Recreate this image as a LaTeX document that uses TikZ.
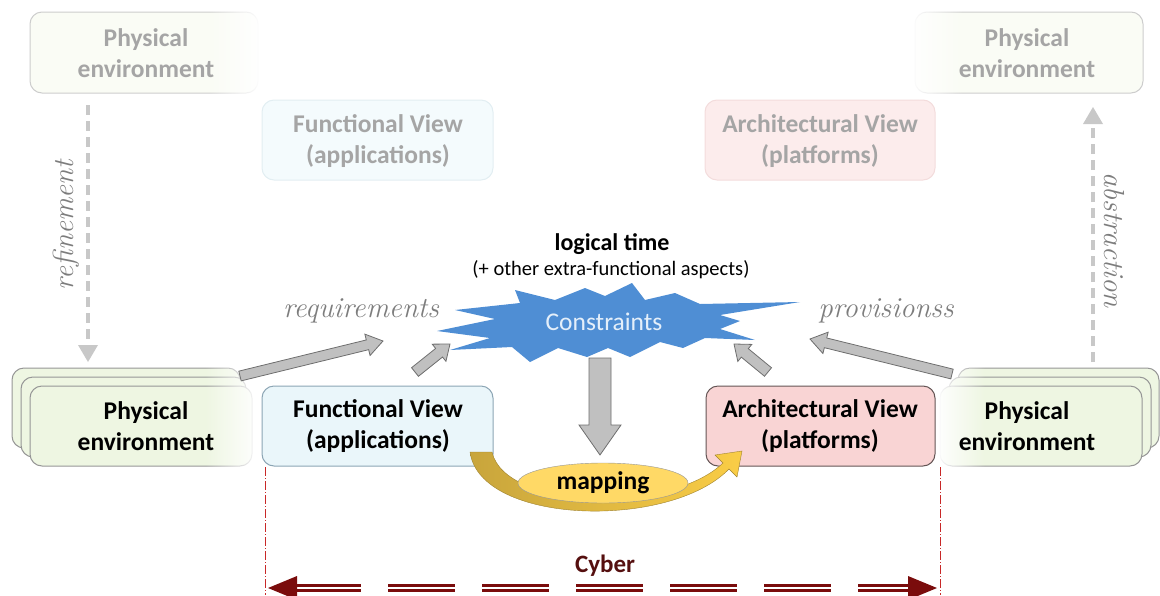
\documentclass[tikz,border=0pt]{standalone}
\usepackage{fontspec}
\newfontfamily\calibri{Carlito}
\usetikzlibrary{calc,fadings,shapes.geometric}
\definecolor{envfill}{RGB}{238,246,226}
\definecolor{envborder}{RGB}{150,150,150}
\definecolor{funfill}{RGB}{234,246,250}
\definecolor{funborder}{RGB}{140,165,180}
\definecolor{arcfill}{RGB}{249,212,212}
\definecolor{arcborder}{RGB}{100,85,85}
\definecolor{fenvfill}{RGB}{250,252,245}
\definecolor{fenvborder}{RGB}{205,205,205}
\definecolor{ffunfill}{RGB}{244,251,253}
\definecolor{ffunborder}{RGB}{226,238,242}
\definecolor{farcfill}{RGB}{252,236,236}
\definecolor{farcborder}{RGB}{243,220,220}
\definecolor{fadetext}{RGB}{165,165,165}
\definecolor{starblue}{RGB}{79,142,212}
\definecolor{startext}{RGB}{228,239,250}
\definecolor{arrgray}{RGB}{192,192,192}
\definecolor{arrborder}{RGB}{110,110,110}
\definecolor{dashc}{RGB}{200,200,200}
\definecolor{labgray}{RGB}{125,125,125}
\definecolor{mapfill}{RGB}{255,217,102}
\definecolor{goldA}{RGB}{200,165,60}
\definecolor{goldB}{RGB}{250,205,70}
\definecolor{cyberc}{RGB}{122,12,12}
\definecolor{cybertext}{RGB}{85,15,15}
\definecolor{vlinec}{RGB}{200,40,40}
\tikzfading[name=fadeR, left color=transparent!100, right color=transparent!0]
\tikzfading[name=fadeL, left color=transparent!0, right color=transparent!100]
\newcommand{\blkarrow}[5]{%
  \coordinate (hb) at ($(#2)!#5!(#1)$);
  \filldraw[blockar] ($(#1)!#3!90:(#2)$) -- ($(hb)!#3!90:(#2)$) -- ($(hb)!#4!90:(#2)$) -- (#2) -- ($(hb)!#4!-90:(#2)$) -- ($(hb)!#3!-90:(#2)$) -- ($(#1)!#3!-90:(#2)$) -- cycle;}
\begin{document}
\begin{tikzpicture}[x=1pt,y=-1pt,
  envbox/.style={draw=envborder, fill=envfill, rounded corners=12pt, line width=1pt},
  funbox/.style={draw=funborder, fill=funfill, rounded corners=12pt, line width=1pt},
  arcbox/.style={draw=arcborder, fill=arcfill, rounded corners=12pt, line width=1pt},
  fenvbox/.style={draw=fenvborder, fill=fenvfill, rounded corners=12pt, line width=1pt},
  ffunbox/.style={draw=ffunborder, fill=ffunfill, rounded corners=12pt, line width=1pt},
  farcbox/.style={draw=farcborder, fill=farcfill, rounded corners=12pt, line width=1pt},
  boldtxt/.style={align=center, font=\calibri\bfseries\fontsize{25.5}{31}\selectfont, text=black},
  fadetxt/.style={align=center, font=\calibri\bfseries\fontsize{25.5}{31}\selectfont, text=fadetext},
  itlab/.style={font=\itshape\fontsize{29}{32}\selectfont, text=labgray},
  blockar/.style={fill=arrgray, draw=arrborder, line width=0.8pt, line join=miter},
  dashline/.style={draw=dashc, line width=4pt, dash pattern=on 10pt off 6pt},
  dashhead/.style={fill=dashc, draw=none},
  cyberline/.style={draw=cyberc, double=white, double distance=1.6pt, line width=3pt, dash pattern=on 67pt off 27pt},
  vline/.style={draw=vlinec, line width=0.7pt, dash pattern=on 9pt off 2pt on 1pt off 2pt},
]
\useasboundingbox (0,0) rectangle (1160,595);

% ---------- top faded boxes
\path[fenvbox] (30,12) rectangle (258,93);
\fill[white, path fading=fadeR] (208,5) rectangle (261,100);
\node[fadetxt] (penvTL) at (146,53) {Physical\\environment};

\path[fenvbox] (915,12) rectangle (1143,93);
\fill[white, path fading=fadeL] (910,5) rectangle (963,100);
\node[fadetxt] (penvTR) at (1027,53) {Physical\\environment};

\path[ffunbox] (262,100) rectangle (493,180);
\node[fadetxt] (funTop) at (378,141) {Functional View\\(applications)};
\path[farcbox] (705,100) rectangle (935,180);
\node[fadetxt] (arcTop) at (820,141) {Architectural View\\(platforms)};

% ---------- bottom left stack
\path[envbox] (12,368) rectangle (240,448);
\path[envbox] (21,377) rectangle (246,457);
\path[envbox] (30,386) rectangle (252,466);
\fill[white, path fading=fadeR] (205,360) rectangle (259,470);
\node[boldtxt] (penvBL) at (146,426) {Physical\\environment};

% ---------- bottom right stack
\path[envbox] (958,368) rectangle (1159,448);
\path[envbox] (949,377) rectangle (1151,457);
\path[envbox] (940,386) rectangle (1142,466);
\fill[white, path fading=fadeL] (937,360) rectangle (985,470);
\node[boldtxt] (penvBR) at (1027,426) {Physical\\environment};

% ---------- functional / architectural
\path[funbox] (262,386) rectangle (493,466);
\node[boldtxt] (funBot) at (378,426) {Functional View\\(applications)};
\path[arcbox] (706,386) rectangle (935,466);
\node[boldtxt] (arcBot) at (820,426) {Architectural View\\(platforms)};

% ---------- refinement / abstraction
\coordinate (refA) at (88,105);
\coordinate (refB) at (88,345);
\draw[dashline] (refA) -- (refB);
\fill[dashhead] (78,345) -- (98,345) -- (88,362) -- cycle;
\node[itlab, rotate=90] (refl) at (66,225) {refinement};

\coordinate (absA) at (1093,362);
\coordinate (absB) at (1093,124);
\draw[dashline] (absA) -- (absB);
\fill[dashhead] (1083,124) -- (1103,124) -- (1093,107) -- cycle;
\node[itlab, rotate=-90] (absl) at (1114,240) {abstraction};

% ---------- constraints star
\fill[starblue] (437,331) -- (495,319) -- (455,310) -- (520,303) -- (515,290) -- (555,300)
  -- (585,288) -- (605,296) -- (632,283) -- (645,300) -- (675,293) -- (700,304)
  -- (800,302) -- (720,315) -- (740,321) -- (720,329) -- (755,340) -- (705,338)
  -- (683,348) -- (660,342) -- (630,357) -- (608,348) -- (587,357) -- (558,348)
  -- (530,362) -- (512,347) -- (450,350) -- (490,338) -- cycle;
\node[font=\calibri\fontsize{25.5}{28}\selectfont, text=startext] (constr) at (604,322) {Constraints};
\node[font=\calibri\bfseries\fontsize{24}{27}\selectfont] (ltime) at (612,244) {logical time};
\node[font=\calibri\fontsize{20.5}{23}\selectfont] (extra) at (611,270) {(+ other extra-functional aspects)};

\node[itlab] (reql) at (361,311) {requirements};
\node[itlab] (provl) at (886,311) {provisionss};

% ---------- block arrows
\coordinate (rlA) at (240,376); \coordinate (rlB) at (383,341);
\blkarrow{rlA}{rlB}{5pt}{11pt}{16pt}
\coordinate (rsA) at (415,372); \coordinate (rsB) at (450,344);
\blkarrow{rsA}{rsB}{5.5pt}{11pt}{14pt}
\coordinate (psA) at (768,372); \coordinate (psB) at (734,344);
\blkarrow{psA}{psB}{5.5pt}{11pt}{14pt}
\coordinate (plA) at (952,374); \coordinate (plB) at (810,339);
\blkarrow{plA}{plB}{5pt}{11pt}{16pt}
\coordinate (dnA) at (600,358); \coordinate (dnB) at (600,455);
\blkarrow{dnA}{dnB}{11pt}{21pt}{30pt}

% ---------- mapping curved arrow
\shade[left color=goldA, right color=goldB, draw=goldA!80!black, line width=0.4pt]
  (470,452) .. controls (480,525) and (670,530) .. (729,469) -- (737,477) -- (742,451)
  -- (715,455) -- (723,463) .. controls (670,514) and (505,510) .. (492,452) -- cycle;
\node[draw=envborder, fill=mapfill, ellipse, minimum width=170pt, minimum height=40pt,
  inner sep=0pt, font=\calibri\bfseries\fontsize{25.5}{28}\selectfont] (mapping) at (603,483) {mapping};

% ---------- cyber
\draw[vline] (265,467) -- (265,595);
\draw[vline] (940,467) -- (940,595);
\coordinate (cyL) at (294,588);
\coordinate (cyR) at (910,588);
\draw[cyberline] (cyL) -- (cyR);
\fill[cyberc] (268,588) -- (297,576) -- (297,600) -- cycle;
\fill[cyberc] (937,588) -- (908,576) -- (908,600) -- cycle;
\node[font=\calibri\bfseries\fontsize{25}{28}\selectfont, text=cybertext] (cyber) at (605,566) {Cyber};
\end{tikzpicture}
\end{document}
